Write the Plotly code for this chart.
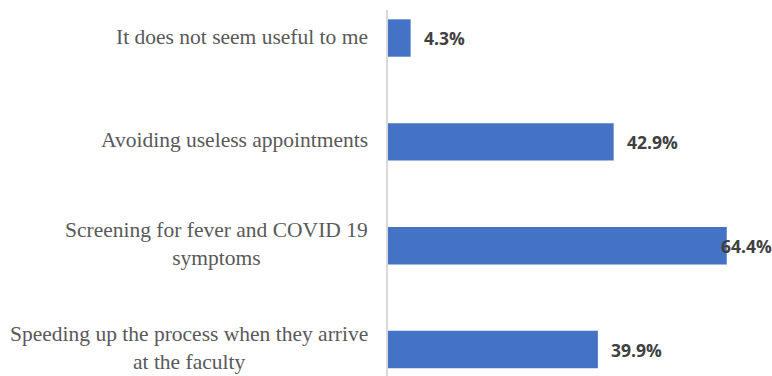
import plotly.graph_objects as go

categories = [
    "It does not seem useful to me",
    "Avoiding useless appointments",
    "Screening for fever and COVID 19<br>symptoms",
    "Speeding up the process when they arrive<br>at the faculty",
]
values = [4.3, 42.9, 64.4, 39.9]
value_labels = ["4.3%", "42.9%", "64.4%", "39.9%"]
label_shifts = [11, 11, -8, 11]

ypos = list(range(len(categories)))

fig = go.Figure()
fig.add_trace(go.Bar(
    x=values, y=ypos, orientation="h",
    marker=dict(color="#4472C4", line=dict(width=0)),
    hoverinfo="skip",
))

for yv, v, lab, sh in zip(ypos, values, value_labels, label_shifts):
    fig.add_annotation(
        x=v, y=yv, xref="x", yref="y", text=lab, showarrow=False,
        xanchor="left", yanchor="middle", xshift=sh,
        font=dict(family="Open Sans", size=17.5, color="#404040", weight="bold"),
    )

cat_font = dict(family="Liberation Serif", size=21.5, color="#595959")
for yv, cat in zip(ypos, categories):
    fig.add_annotation(
        x=0, y=yv, xref="paper", yref="y", text=cat, showarrow=False,
        xanchor="right", yanchor="middle", align="center", xshift=-19,
        yshift=1.5, borderpad=0, font=cat_font,
    )

fig.update_layout(
    width=772, height=376,
    margin=dict(l=388, r=0, t=10, b=0),
    paper_bgcolor="white", plot_bgcolor="white",
    showlegend=False, bargap=0.64,
    xaxis=dict(range=[0, 73], showgrid=False, zeroline=False,
               showticklabels=False, showline=False),
    yaxis=dict(range=[3.255, -0.27], showgrid=False, zeroline=False,
               showticklabels=False, showline=True, linecolor="#d9d9d9",
               linewidth=1.5, tickvals=ypos),
)

fig.write_html("out.html")
